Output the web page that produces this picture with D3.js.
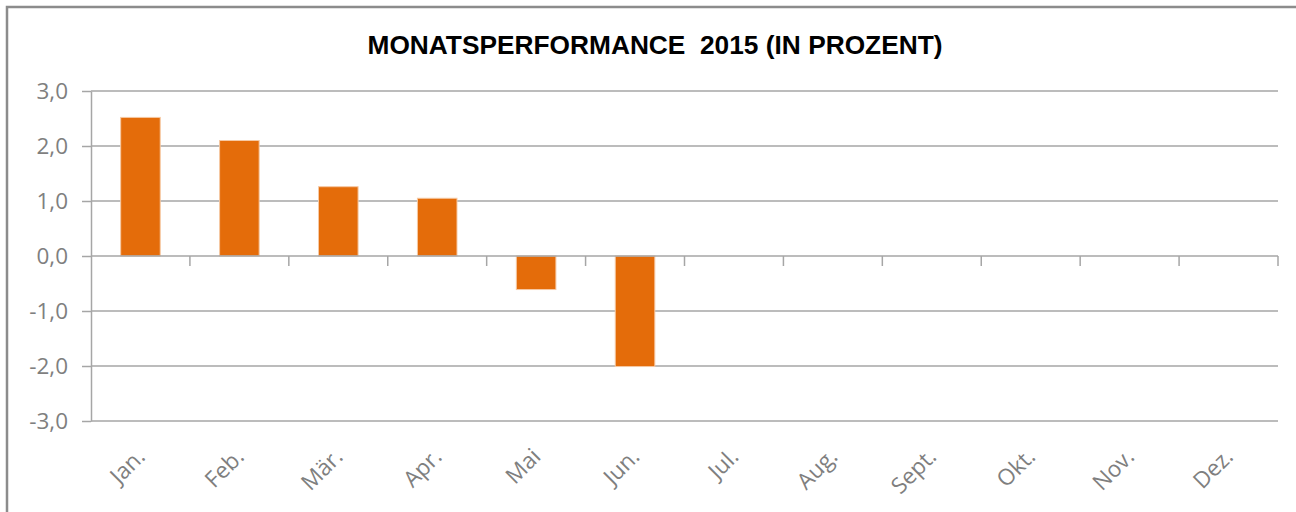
<!DOCTYPE html>
<html>
<head>
<meta charset="utf-8">
<script src="https://cdn.jsdelivr.net/npm/d3@7"></script>
<style>
    body { margin: 0; background: #fff; }
    svg { display: block; }
    .grid line { stroke: #a6a6a6; stroke-width: 1.5; }
    .axis path, .axis line { stroke: #a6a6a6; stroke-width: 1.5; }
    .axis text { fill: #7f7f7f; font-family: "Open Sans", sans-serif; font-size: 22.5px; }
    .bar { fill: #e46c0a; stroke: #f6c9a4; stroke-width: 1; }
</style>
</head>
<body>
<svg class="chart" width="1296" height="512"></svg>
<script>
var months = ["Jan.", "Feb.", "Mär.", "Apr.", "Mai", "Jun.", "Jul.", "Aug.", "Sept.", "Okt.", "Nov.", "Dez."];
var performance = [2.52, 2.10, 1.26, 1.05, -0.61, -2.01, null, null, null, null, null, null];
var yTicks = [-3, -2, -1, 0, 1, 2, 3];
var title = "MONATSPERFORMANCE  2015 (IN PROZENT)";

var svgW = 1296, svgH = 512;
var plot = { left: 91, right: 1278, top: 91, bottom: 421 };

var svg = d3.select("svg.chart");

// frame
svg.append("rect")
    .attr("x", 7).attr("y", 7)
    .attr("width", svgW + 20).attr("height", svgH + 20)
    .attr("fill", "none")
    .attr("stroke", "#8c8c8c")
    .attr("stroke-width", 2.5);

svg.append("text")
    .attr("x", 655).attr("y", 54)
    .attr("text-anchor", "middle")
    .attr("font-family", "Liberation Sans, Arial, sans-serif")
    .attr("font-weight", "bold")
    .attr("font-size", 26)
    .attr("textLength", 575)
    .attr("lengthAdjust", "spacingAndGlyphs")
    .style("white-space", "pre")
    .text(title);

var cat = d3.scaleBand()
    .domain(months)
    .range([plot.left, plot.right])
    .padding(0);

var x = d3.scaleBand()
    .domain(months)
    .range([plot.left, plot.right])
    .paddingInner(0.6)
    .paddingOuter(0.3);

var y = d3.scaleLinear()
    .domain([-3, 3])
    .range([plot.bottom, plot.top]);

var de = d3.formatLocale({ decimal: ",", thousands: ".", grouping: [3], currency: ["", " €"], minus: "-" });
var fmt = de.format(".1f");

// horizontal gridlines
svg.append("g")
    .attr("class", "grid")
    .selectAll("line")
    .data(yTicks.filter(function (d) { return d !== 0; }))
    .enter().append("line")
    .attr("x1", plot.left).attr("x2", plot.right)
    .attr("y1", function (d) { return y(d); })
    .attr("y2", function (d) { return y(d); });

// bars
svg.append("g")
    .selectAll("rect")
    .data(months.map(function (m, i) { return { month: m, value: performance[i] }; })
        .filter(function (d) { return d.value !== null; }))
    .enter().append("rect")
    .attr("class", "bar")
    .attr("x", function (d) { return x(d.month); })
    .attr("width", x.bandwidth())
    .attr("y", function (d) { return y(Math.max(0, d.value)); })
    .attr("height", function (d) { return Math.abs(y(d.value) - y(0)); });

// y axis
var yAxis = d3.axisLeft(y)
    .tickValues(yTicks)
    .tickFormat(fmt)
    .tickSize(9)
    .tickSizeOuter(0)
    .tickPadding(14);

svg.append("g")
    .attr("class", "axis")
    .attr("transform", "translate(" + plot.left + ",0)")
    .call(yAxis);

// zero line with category ticks
var zero = svg.append("g")
    .attr("class", "axis")
    .attr("transform", "translate(0," + y(0) + ")");

zero.append("line")
    .attr("x1", plot.left).attr("x2", plot.right);

var bounds = months.map(function (m) { return cat(m); }).concat([plot.right]);
zero.selectAll("line.tick")
    .data(bounds.slice(1))
    .enter().append("line")
    .attr("class", "tick")
    .attr("x1", function (d) { return d; })
    .attr("x2", function (d) { return d; })
    .attr("y1", 0).attr("y2", 10);

// month labels
svg.append("g")
    .attr("class", "axis")
    .selectAll("text")
    .data(months)
    .enter().append("text")
    .attr("text-anchor", "end")
    .attr("transform", function (d) {
        return "translate(" + (cat(d) + cat.bandwidth() / 2 + 6) + "," + 458 + ") rotate(-45)";
    })
    .text(function (d) { return d; });
</script>
</body>
</html>
